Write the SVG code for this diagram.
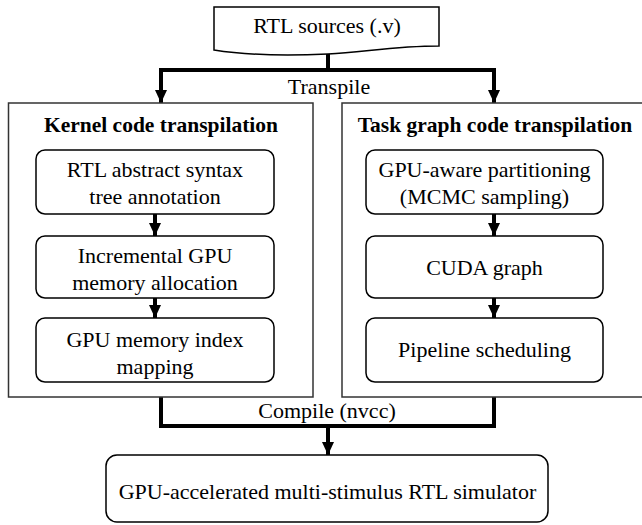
<svg xmlns="http://www.w3.org/2000/svg" width="642" height="525" viewBox="0 0 642 525">
<defs>
<style>
text{font-family:'Liberation Serif','Times New Roman',Tinos,'Nimbus Roman','DejaVu Serif',serif;fill:#000;text-anchor:middle}
.t{font-size:22px}
.b{font-size:21.5px;font-weight:bold}
.box{fill:#fff;stroke:#000;stroke-width:1.5}
.outer{fill:none;stroke:#333;stroke-width:1.5}
.wire{fill:none;stroke:#000;stroke-width:4}
</style>
<marker id="ah" markerWidth="13" markerHeight="12" refX="13" refY="6" orient="auto" markerUnits="userSpaceOnUse">
<path d="M0,0 L13,6 L0,12 Z" fill="#000"/>
</marker>
</defs>
<rect width="642" height="525" fill="#fff"/>

<g id="connectors">
<polyline class="wire" points="328,54 328,70"/>
<polyline class="wire" points="161,103 161,70 494,70 494,103" stroke-linejoin="miter"/>
<line class="wire" x1="161" y1="70" x2="161" y2="103" marker-end="url(#ah)"/>
<line class="wire" x1="494" y1="70" x2="494" y2="103" marker-end="url(#ah)"/>
<line class="wire" x1="155" y1="214" x2="155" y2="236" marker-end="url(#ah)"/>
<line class="wire" x1="155" y1="298" x2="155" y2="318" marker-end="url(#ah)"/>
<line class="wire" x1="494" y1="214" x2="494" y2="236" marker-end="url(#ah)"/>
<line class="wire" x1="494" y1="298" x2="494" y2="318" marker-end="url(#ah)"/>
<polyline class="wire" points="161,397 161,426 494,426 494,397" stroke-linejoin="miter"/>
<line class="wire" x1="328" y1="426" x2="328" y2="455" marker-end="url(#ah)"/>
<text class="t" x="329" y="94" font-family="Liberation Serif, serif">Transpile</text>
<text class="t" x="327" y="418">Compile (nvcc)</text>
</g>

<g id="rtl-sources">
<path class="box" d="M214,7 H439 V46 C395,46 365,52 328,54 C285,56 245,55 214,50 Z"/>
<text class="t" x="327" y="33">RTL sources (.v)</text>
</g>

<g id="kernel-code-transpilation">
<rect class="outer" x="8.5" y="103" width="304.5" height="294"/>
<text class="b" x="161" y="132">Kernel code transpilation</text>
</g>
<g id="rtl-ast-annotation">
<rect class="box" x="36" y="150" width="238" height="64" rx="9"/>
<text class="t" x="155" y="177">RTL abstract syntax</text>
<text class="t" x="155" y="204">tree annotation</text>
</g>
<g id="incremental-gpu-memory">
<rect class="box" x="36" y="236" width="238" height="62" rx="9"/>
<text class="t" x="155" y="263">Incremental GPU</text>
<text class="t" x="155" y="290">memory allocation</text>
</g>
<g id="gpu-memory-index-mapping">
<rect class="box" x="36" y="318" width="238" height="64" rx="9"/>
<text class="t" x="155" y="347">GPU memory index</text>
<text class="t" x="155" y="374">mapping</text>
</g>

<g id="task-graph-code-transpilation">
<rect class="outer" x="342" y="103" width="310" height="294"/>
<text class="b" x="495" y="132">Task graph code transpilation</text>
</g>
<g id="gpu-aware-partitioning">
<rect class="box" x="366" y="150" width="237" height="64" rx="9"/>
<text class="t" x="484.5" y="177">GPU-aware partitioning</text>
<text class="t" x="484.5" y="204">(MCMC sampling)</text>
</g>
<g id="cuda-graph">
<rect class="box" x="366" y="236" width="237" height="62" rx="9"/>
<text class="t" x="484.5" y="275">CUDA graph</text>
</g>
<g id="pipeline-scheduling">
<rect class="box" x="366" y="318" width="237" height="64" rx="9"/>
<text class="t" x="484.5" y="357">Pipeline scheduling</text>
</g>

<g id="gpu-simulator">
<rect class="box" x="106" y="455" width="442" height="67" rx="11"/>
<text class="t" x="327.5" y="499">GPU-accelerated multi-stimulus RTL simulator</text>
</g>
</svg>
